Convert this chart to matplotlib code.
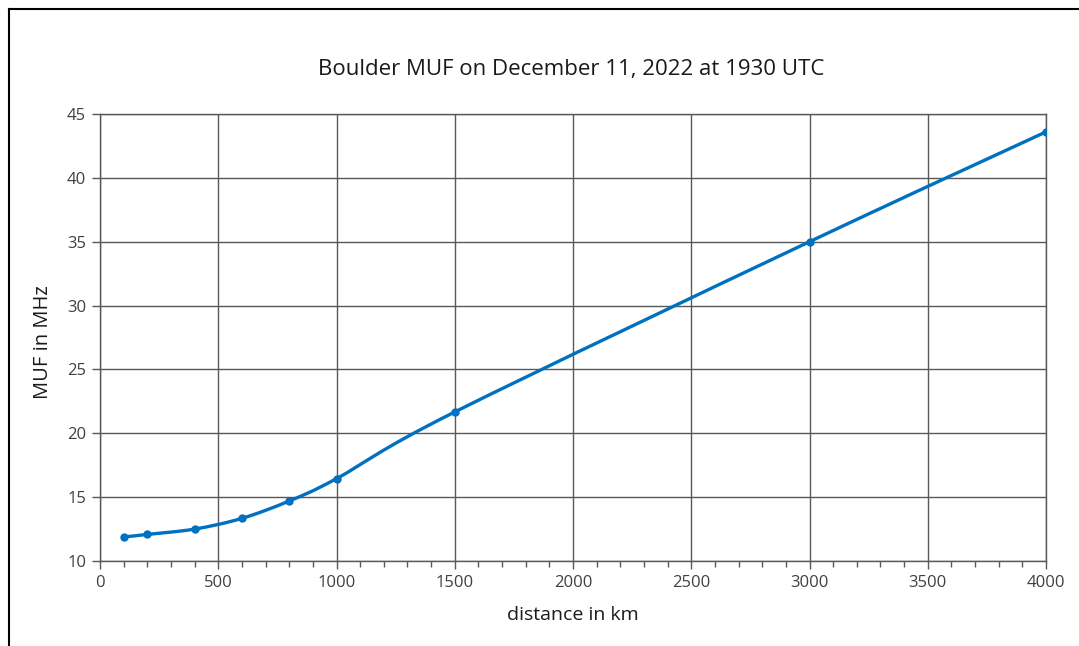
import matplotlib
matplotlib.use("Agg")
import matplotlib.pyplot as plt
from matplotlib.path import Path
from matplotlib.patches import PathPatch
from matplotlib.lines import Line2D
from matplotlib.ticker import MultipleLocator
import numpy as np

plt.rcParams['font.family'] = ['Open Sans', 'DejaVu Sans']

distance_km = [100, 200, 400, 600, 800, 1000, 1500, 3000, 4000]
muf_mhz = [11.88, 12.08, 12.5, 13.34, 14.7, 16.45, 21.67, 35.0, 43.6]
title = "Boulder MUF on December 11, 2022 at 1930 UTC"
xlabel = "distance in km"
ylabel = "MUF in MHz"

W, H = 1079, 646
fig = plt.figure(figsize=(W / 100, H / 100), dpi=100)
ax = fig.add_axes([100 / W, 1 - 561 / H, (1046 - 100) / W, (561 - 114) / H])

line_color = "#0070C0"
grid_color = "#595959"

ax.set_xlim(0, 4000)
ax.set_ylim(10, 45)
ax.xaxis.set_major_locator(MultipleLocator(500))
ax.xaxis.set_minor_locator(MultipleLocator(100))
ax.yaxis.set_major_locator(MultipleLocator(5))
ax.grid(True, which="major", color=grid_color, linewidth=1.0)
ax.set_axisbelow(True)
for s in ax.spines.values():
    s.set_color(grid_color)
    s.set_linewidth(1.0)
ax.tick_params(axis="both", which="major", direction="out", length=6, width=1,
               color=grid_color, labelcolor="#404040", labelsize=12, pad=4)
ax.tick_params(axis="x", which="minor", direction="out", length=4, width=1,
               color=grid_color)

# smoothed (Catmull-Rom style Bezier) line like Excel
pts = np.column_stack([distance_km, muf_mhz]).astype(float)
verts = [tuple(pts[0])]
codes = [Path.MOVETO]
n = len(pts)
for i in range(n - 1):
    p0 = pts[i - 1] if i > 0 else pts[i]
    p1 = pts[i]
    p2 = pts[i + 1]
    p3 = pts[i + 2] if i + 2 < n else pts[i + 1]
    c1 = p1 + (p2 - p0) / 6.0
    c2 = p2 - (p3 - p1) / 6.0
    verts += [tuple(c1), tuple(c2), tuple(p2)]
    codes += [Path.CURVE4] * 3
path = Path(verts, codes)
ax.add_patch(PathPatch(path, facecolor="none", edgecolor=line_color, linewidth=2.4,
                       capstyle="round", joinstyle="round", zorder=3))
ax.plot(distance_km, muf_mhz, linestyle="none", marker="o", markersize=5,
        color=line_color, zorder=4)

fig.text(571 / W, 1 - 70 / H, title, ha="center", va="center", fontsize=16, color="#1a1a1a")
fig.text(573 / W, 1 - 615 / H, xlabel, ha="center", va="center", fontsize=14, color="#1a1a1a")
fig.text(43 / W, 1 - 342 / H, ylabel, ha="center", va="center", rotation=90, fontsize=14.5, color="#1a1a1a")

# screenshot border (left and top)
fig.add_artist(Line2D([8.5 / W, 8.5 / W], [0, 1 - 8.5 / H], transform=fig.transFigure,
                      color="black", linewidth=1.5))
fig.add_artist(Line2D([8.5 / W, 1], [1 - 8.5 / H, 1 - 8.5 / H], transform=fig.transFigure,
                      color="black", linewidth=1.5))

fig.savefig("out.png", dpi=100)
